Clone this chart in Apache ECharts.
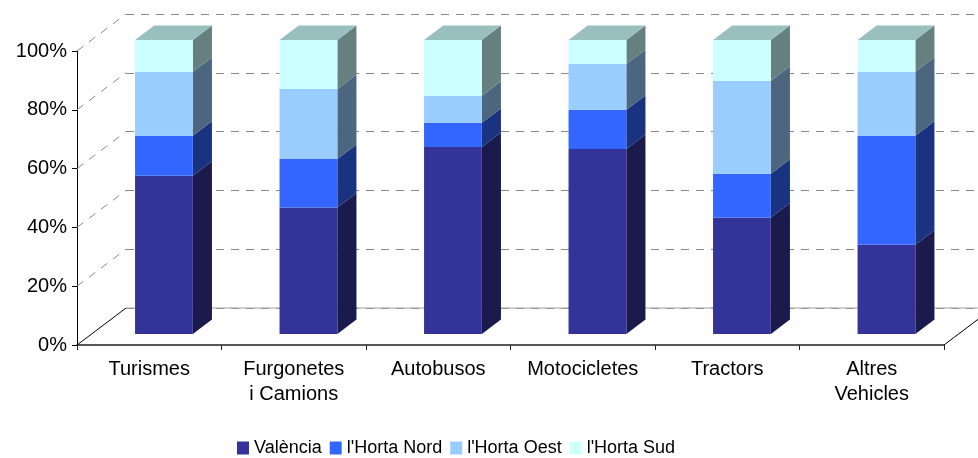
<!DOCTYPE html>
<html><head><meta charset="utf-8">
<script src="https://cdn.jsdelivr.net/npm/echarts@6/dist/echarts.min.js"></script>
<style>html,body{margin:0;padding:0;background:#fff}#c{width:978px;height:458px}</style>
</head><body><div id="c"></div>
<script>
const categories = ['Turismes', 'Furgonetes\ni Camions', 'Autobusos', 'Motocicletes', 'Tractors', 'Altres\nVehicles'];
const seriesNames = ['València', "l'Horta Nord", "l'Horta Oest", "l'Horta Sud"];
const valencia  = [53.8, 43.0, 63.6, 62.9, 39.6, 30.3];
const hortaNord = [13.6, 16.5,  8.2, 13.3, 14.9, 37.1];
const hortaOest = [21.8, 23.8,  9.2, 15.6, 31.6, 21.8];
const hortaSud  = [10.8, 16.7, 19.0,  8.2, 13.9, 10.8];
const yTicks = [0, 20, 40, 60, 80, 100];

const frontColors = ['#333399', '#3366FF', '#99CCFF', '#CCFFFF'];
const sideColors  = ['#1A1A4D', '#1A3380', '#4D6680', '#668080'];
const topColors   = ['#26264D', '#264DBF', '#7399BF', '#99BFBF'];

const FONT = "'Liberation Sans', Arial, sans-serif";
const DX = 49, DY = -37;          // depth of the 3D box
const BAR_OFF = 0.3, BAR_DEPTH = 0.39, BAR_W = 0.4;

const allSeries = [valencia, hortaNord, hortaOest, hortaSud];
const stacked = [];
const acc = categories.map(() => 0);
allSeries.forEach((arr) => {
  stacked.push(arr.map((v, i) => { const b = acc[i]; acc[i] += v; return [i, b, acc[i]]; }));
});

function barRenderer(si) {
  return function (params, api) {
    const i = api.value(0), b = api.value(1), t = api.value(2);
    const band = api.size([1, 0])[0];
    const c0 = api.coord([i, b]), c1 = api.coord([i, t]);
    const w = band * BAR_W;
    const ox = DX * BAR_OFF, oy = DY * BAR_OFF;
    const dx = DX * BAR_DEPTH, dy = DY * BAR_DEPTH;
    const x0 = c0[0] + ox - w / 2, x1 = x0 + w;
    const yb = c0[1] + oy, yt = c1[1] + oy;
    const children = [
      { type: 'polygon', shape: { points: [[x1, yb], [x1 + dx, yb + dy], [x1 + dx, yt + dy], [x1, yt]] }, style: { fill: sideColors[si] } },
      { type: 'rect', shape: { x: x0, y: yt, width: w, height: yb - yt }, style: { fill: frontColors[si] } }
    ];
    if (si === allSeries.length - 1) {
      children.push({ type: 'polygon', shape: { points: [[x0, yt], [x0 + dx, yt + dy], [x1 + dx, yt + dy], [x1, yt]] }, style: { fill: topColors[si] } });
    }
    return { type: 'group', children };
  };
}

function decorRenderer(params, api) {
  const v = api.value(1);
  const band = api.size([1, 0])[0];
  const p = api.coord([0, v]);
  const xl = p[0] - band / 2;
  const children = [];
  if (v === 0) {
    const xr = api.coord([categories.length - 1, 0])[0] + band / 2;
    children.push({ type: 'line', shape: { x1: xl + DX, y1: p[1] + DY, x2: 1200, y2: p[1] + DY }, style: { stroke: '#a0a0a0', lineWidth: 1 } });
    children.push({ type: 'line', shape: { x1: xl, y1: p[1], x2: xl + DX, y2: p[1] + DY }, style: { stroke: '#000', lineWidth: 1 } });
    children.push({ type: 'line', shape: { x1: xr, y1: p[1], x2: xr + DX, y2: p[1] + DY }, style: { stroke: '#000', lineWidth: 1 } });
  } else {
    children.push({ type: 'line', shape: { x1: xl, y1: p[1], x2: xl + DX, y2: p[1] + DY }, style: { stroke: '#8a8a8a', lineWidth: 1, lineDash: [8, 7] } });
  }
  return { type: 'group', children };
}

const chart = echarts.init(document.getElementById('c'), null, { renderer: 'canvas' });
chart.setOption({
  animation: false,
  backgroundColor: '#fff',
  color: frontColors,
  textStyle: { fontFamily: FONT },
  legend: {
    data: seriesNames,
    left: 237, top: 439, padding: 0,
    icon: 'rect', itemWidth: 12, itemHeight: 13, itemGap: 8,
    textStyle: { fontSize: 18, color: '#000', fontFamily: FONT }
  },
  grid: [
    { left: 77, right: 34, top: 51, bottom: 113 },
    { left: 126, top: 14, width: 867, height: 294 }
  ],
  xAxis: [
    {
      type: 'category', data: categories, gridIndex: 0,
      axisLine: { lineStyle: { color: '#222', width: 1.5 } },
      axisTick: { show: true, length: 5, lineStyle: { color: '#222' } },
      axisLabel: { fontSize: 20, color: '#000', margin: 12, lineHeight: 25, fontFamily: FONT, interval: 0 },
      splitLine: { show: false }
    },
    { type: 'value', gridIndex: 1, min: 0, max: 1, show: false }
  ],
  yAxis: [
    {
      type: 'value', gridIndex: 0, min: 0, max: 100, interval: 20,
      axisLine: { show: true, lineStyle: { color: '#000', width: 1 } },
      axisTick: { show: true, length: 5, lineStyle: { color: '#000' } },
      axisLabel: { formatter: '{value}%', fontSize: 20, color: '#000', margin: 10, fontFamily: FONT },
      splitLine: { show: false }
    },
    {
      type: 'value', gridIndex: 1, min: 0, max: 100, interval: 20,
      axisLine: { show: false }, axisTick: { show: false }, axisLabel: { show: false },
      splitLine: { show: true, lineStyle: { color: '#8a8a8a', width: 1, type: [8, 7] } }
    }
  ],
  series: [
    {
      type: 'custom', name: '_decor', xAxisIndex: 0, yAxisIndex: 0, z: 1,
      renderItem: decorRenderer, data: yTicks.map(v => [0, v]), silent: true, tooltip: { show: false }
    }
  ].concat(seriesNames.map((name, si) => ({
    type: 'custom', name, xAxisIndex: 0, yAxisIndex: 0, z: 3,
    itemStyle: { color: frontColors[si] },
    renderItem: barRenderer(si),
    encode: { x: 0, y: [1, 2] },
    data: stacked[si]
  })))
});
</script>
</body></html>
